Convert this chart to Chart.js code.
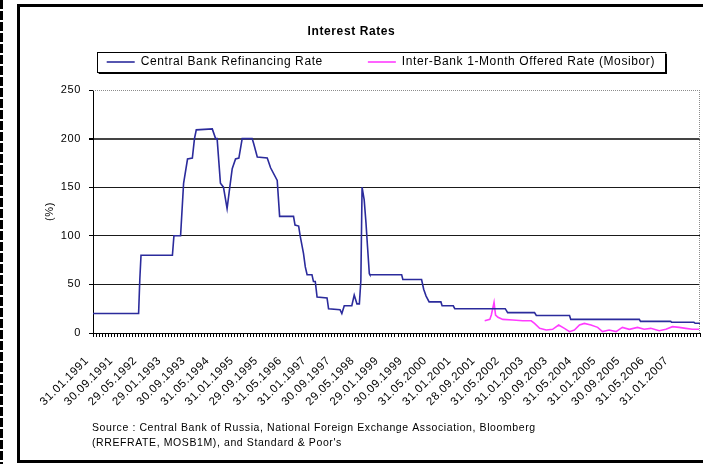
<!DOCTYPE html>
<html>
<head>
<meta charset="utf-8">
<title>Interest Rates</title>
<script src="https://cdn.jsdelivr.net/npm/chart.js@4/dist/chart.umd.min.js"></script>
<style>
  html, body { margin: 0; padding: 0; background: #fff; }
  #wrap { position: relative; width: 703px; height: 464px; overflow: hidden; background: #fff; }
  #edge { position: absolute; left: 0; top: 0; width: 3px; height: 464px;
          background: repeating-linear-gradient(to bottom, #000 0 9px, #fff 9px 11px); }
  #frame { position: absolute; left: 17px; top: 4px; width: 720px; height: 459px;
           border: 3px solid #000; box-sizing: border-box; }
  canvas { position: absolute; left: 0; top: 0; }
</style>
</head>
<body>
<div id="wrap">
  <div id="edge"></div>
  <div id="frame"></div>
  <canvas id="chart" width="703" height="464"></canvas>
</div>
<script>
// Month offsets are counted from 31.01.1991; a label sits every 8 months.
const tickLabels = [
  '31.01.1991', '30.09.1991', '29.05.1992', '29.01.1993', '30.09.1993',
  '31.05.1994', '31.01.1995', '29.09.1995', '31.05.1996', '31.01.1997',
  '30.09.1997', '29.05.1998', '29.01.1999', '30.09.1999', '31.05.2000',
  '31.01.2001', '28.09.2001', '31.05.2002', '31.01.2003', '30.09.2003',
  '31.05.2004', '31.01.2005', '30.09.2005', '31.05.2006', '31.01.2007'
];
const labelEvery = 8;
const lastMonth = 201;

// Central Bank refinancing rate, %
const refiMonths = [
  0, 15.1, 15.5, 15.9, 26.3, 26.8, 29.0, 30.0, 31.3, 32.9,
  33.6, 34.2, 39.5, 40.6, 41.1, 42.2, 43.2, 44.4, 45.3, 46.1,
  47.2, 48.3, 49.4, 52.7, 53.2, 54.4, 57.7, 58.8, 61.0, 61.8,
  66.4, 66.9, 68.1, 68.6, 69.7, 70.3, 70.9, 72.5, 73.0, 73.6,
  74.2, 77.5, 78.0, 81.8, 82.4, 83.2, 85.7, 86.5, 87.4, 88.2,
  88.7, 89.1, 89.8, 90.4, 90.9, 91.5, 91.7, 102.2, 102.6, 108.8,
  109.5, 110.3, 111.3, 115.2, 115.6, 119.3, 119.8, 136.5, 136.9, 137.3,
  146.2, 146.8, 157.8, 158.2, 180.9, 181.3, 191.3, 191.6, 199.0, 199.4,
  201
];
const refiRates = [
  20, 20, 55, 80, 80, 100, 100, 154, 179, 180,
  200, 209, 210, 200, 200, 154, 150, 128, 150, 169,
  179, 180, 200, 200, 195, 181, 180, 170, 157, 120,
  120, 111, 110, 100, 82, 68, 60, 60, 53, 53,
  37, 36, 25, 24, 20, 28, 28, 39, 30, 30,
  54, 150, 137, 113, 89, 61, 60, 60, 55, 55,
  45, 38, 32, 32, 28, 28, 25, 25, 23, 21,
  21, 18, 18, 14, 14, 12, 12, 11, 11, 10,
  10
];

// Inter-bank 1-month offered rate (Mosibor), %
const mosiborMonths = [
  129.7, 131.4, 131.9, 132.8, 133.3, 134.1, 135.7, 139.0, 142.3, 145.1,
  146.2, 147.9, 150.1, 152.2, 154.2, 156.1, 157.8, 159.4, 161.1, 162.7,
  164.9, 167.1, 168.7, 170.9, 173.2, 175.3, 177.6, 180.3, 182.5, 184.7,
  187.5, 189.7, 191.9, 194.1, 196.3, 198.4, 200.7
];
const mosiborRates = [
  12.6, 14, 18.5, 31.6, 18.5, 16.1, 14, 13.3, 12.6, 12.6,
  9.9, 4.8, 3.1, 3.8, 8.2, 4.8, 1.4, 3.1, 8.2, 9.9,
  8.2, 5.8, 1.4, 3.1, 1.4, 5.8, 3.8, 5.8, 3.8, 4.8,
  2.4, 3.8, 6.5, 5.8, 4.8, 3.8, 3.8
];

const sourceLines = [
  'Source : Central Bank of Russia, National Foreign Exchange Association, Bloomberg',
  '(RREFRATE, MOSB1M), and Standard & Poor\'s'
];

const LETTER_SPACING = '0.6px';
const FONT = 'Arial, "Liberation Sans", sans-serif';

const toPoints = (xs, ys) => xs.map((m, i) => ({ x: m, y: ys[i] }));

const decorations = {
  id: 'decorations',
  beforeUpdate(chart) { chart.ctx.letterSpacing = LETTER_SPACING; },
  beforeDraw(chart) {
    const ctx = chart.ctx;
    ctx.letterSpacing = LETTER_SPACING;
    // framed legend with a drop shadow
    const boxes = chart.legend && chart.legend.legendHitBoxes;
    if (boxes && boxes.length) {
      const left = Math.min(...boxes.map(b => b.left)) - 10;
      const right = Math.max(...boxes.map(b => b.left + b.width)) + 10;
      const top = Math.min(...boxes.map(b => b.top)) - 4;
      const bottom = Math.max(...boxes.map(b => b.top + b.height)) + 4;
      ctx.save();
      ctx.fillStyle = '#000';
      ctx.fillRect(left + 2, top + 2, right - left, bottom - top);
      ctx.fillStyle = '#fff';
      ctx.fillRect(left, top, right - left, bottom - top);
      ctx.strokeStyle = '#000';
      ctx.lineWidth = 1;
      ctx.strokeRect(Math.round(left) + 0.5, Math.round(top) + 0.5, right - left, bottom - top);
      ctx.restore();
    }
  },
  afterDraw(chart) {
    const { ctx, chartArea: a } = chart;
    ctx.save();
    // dotted top and right edges of the plot area
    ctx.strokeStyle = '#8c8c8c';
    ctx.lineWidth = 1;
    ctx.setLineDash([1, 1]);
    ctx.beginPath();
    ctx.moveTo(a.left, Math.round(a.top) + 0.5);
    ctx.lineTo(a.right, Math.round(a.top) + 0.5);
    ctx.moveTo(Math.round(a.right) - 0.5, a.top);
    ctx.lineTo(Math.round(a.right) - 0.5, a.bottom);
    ctx.stroke();
    ctx.setLineDash([]);
    // source note under the axis
    ctx.fillStyle = '#000';
    ctx.font = '10.5px ' + FONT;
    ctx.textBaseline = 'middle';
    ctx.textAlign = 'left';
    sourceLines.forEach((line, i) => ctx.fillText(line, a.left - 1, a.bottom + 95 + i * 15));
    ctx.restore();
  }
};

Chart.defaults.font.family = FONT;
Chart.defaults.color = '#000';

new Chart(document.getElementById('chart'), {
  type: 'line',
  data: {
    datasets: [
      {
        label: 'Central Bank Refinancing Rate',
        data: toPoints(refiMonths, refiRates),
        borderColor: '#2b2b9c',
        backgroundColor: '#2b2b9c',
        borderWidth: 1.6,
        pointRadius: 0,
        pointStyle: 'line',
        tension: 0
      },
      {
        label: 'Inter-Bank 1-Month Offered Rate (Mosibor)',
        data: toPoints(mosiborMonths, mosiborRates),
        borderColor: '#ff3cff',
        backgroundColor: '#ff3cff',
        borderWidth: 1.6,
        pointRadius: 0,
        pointStyle: 'line',
        tension: 0
      }
    ]
  },
  options: {
    responsive: false,
    animation: false,
    events: [],
    layout: { padding: { left: 3, right: 3, top: 4, bottom: 0 } },
    plugins: {
      title: {
        display: true,
        text: 'Interest Rates',
        color: '#000',
        font: { size: 12, weight: 'bold' },
        padding: { top: 20, bottom: -27.4 }
      },
      legend: {
        display: true,
        position: 'top',
        align: 'end',
        labels: {
          usePointStyle: true,
          pointStyleWidth: 28,
          padding: 45,
          color: '#000',
          font: { size: 12 }
        }
      },
      tooltip: { enabled: false }
    },
    scales: {
      x: {
        type: 'linear',
        min: 0,
        max: lastMonth,
        grid: { drawOnChartArea: false, drawTicks: true, tickLength: 4, tickColor: '#000' },
        border: { color: '#000', width: 1 },
        ticks: {
          stepSize: 1,
          autoSkip: false,
          maxRotation: 45,
          minRotation: 45,
          padding: 17,
          labelOffset: -6,
          color: '#000',
          font: { size: 11.5 },
          callback: (v) => (v % labelEvery === 0 && tickLabels[v / labelEvery]) ? tickLabels[v / labelEvery] : ''
        },
        afterFit: (s) => { s.height = 131; s.paddingRight = 0; s.paddingLeft = 0; }
      },
      spacer: {
        type: 'linear',
        position: 'top',
        min: 0,
        max: lastMonth,
        grid: { display: false, drawTicks: false },
        border: { display: false },
        ticks: { display: false },
        afterFit: (s) => { s.height = 12; s.paddingRight = 0; s.paddingLeft = 0; }
      },
      y: {
        min: 0,
        max: 250,
        ticks: { stepSize: 50, padding: 8, color: '#000', font: { size: 11 } },
        grid: {
          color: (c) => c.tick && c.tick.value === 250 ? 'rgba(0,0,0,0)' : (c.tick && c.tick.value === 200 ? '#444' : '#1a1a1a'),
          lineWidth: (c) => c.tick && c.tick.value === 200 ? 2 : 1,
          drawTicks: true,
          tickLength: 4,
          tickColor: '#000'
        },
        border: { color: '#000', width: 1 },
        title: { display: true, text: '(%)', color: '#000', font: { size: 11 }, padding: { top: 40 } },
        afterFit: (s) => { s.width = 90; }
      }
    }
  },
  plugins: [decorations]
});
</script>
</body>
</html>
